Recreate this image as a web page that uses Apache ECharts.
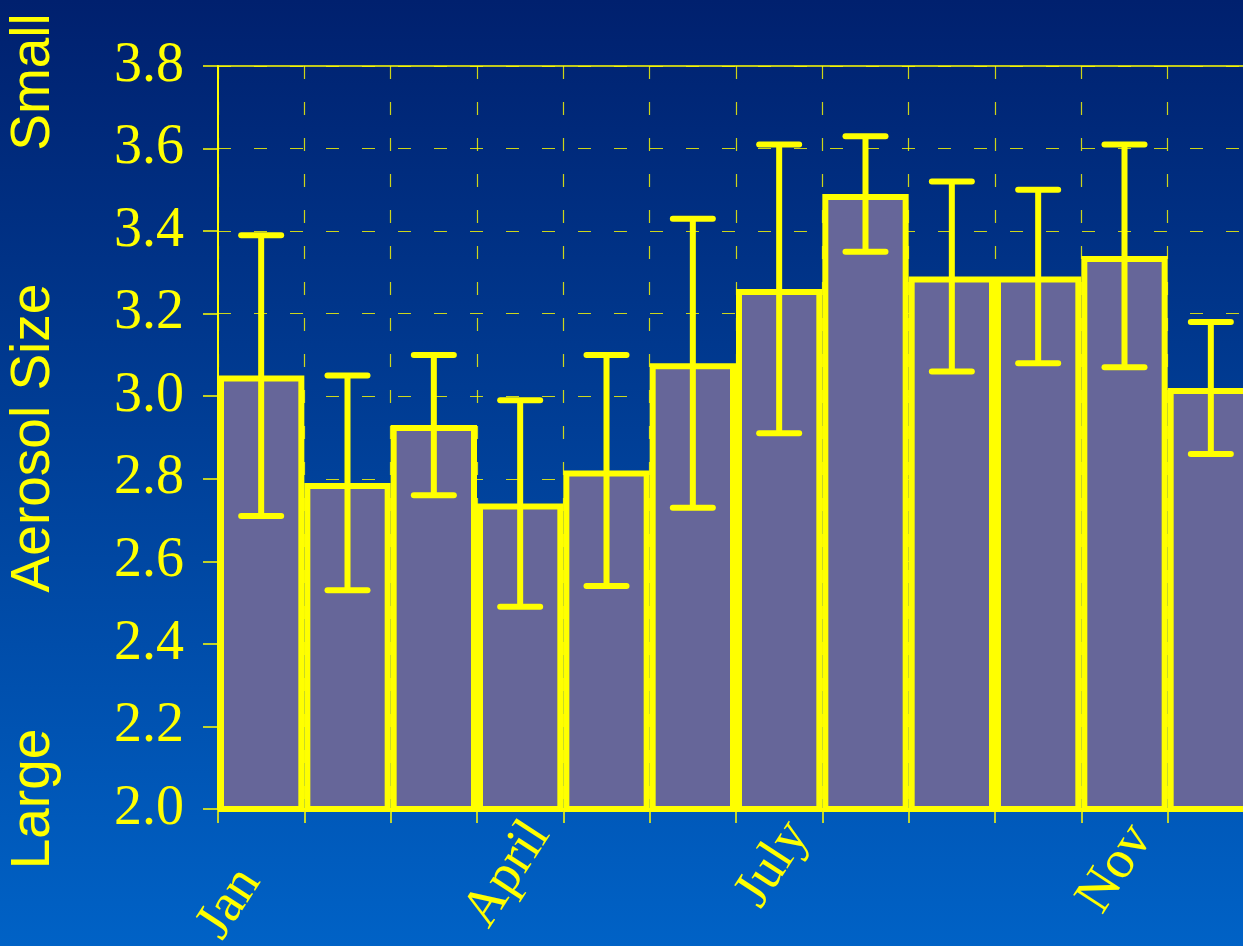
<!DOCTYPE html>
<html>
<head>
<meta charset="utf-8">
<script src="https://cdn.jsdelivr.net/npm/echarts@6/dist/echarts.min.js"></script>
<style>
  html, body { margin: 0; padding: 0; overflow: hidden; }
  #chart { width: 1243px; height: 946px; }
</style>
</head>
<body>
<div id="chart"></div>
<script>
const months = ["Jan", "Feb", "Mar", "April", "May", "Jun", "July", "Aug", "Sep", "Oct", "Nov", "Dec"];
const shownMonths = ["Jan", "April", "July", "Nov"];
const sizeMean = [3.05, 2.79, 2.93, 2.74, 2.82, 3.08, 3.26, 3.49, 3.29, 3.29, 3.34, 3.02];
const sizeHigh = [3.39, 3.05, 3.10, 2.99, 3.10, 3.43, 3.61, 3.63, 3.52, 3.50, 3.61, 3.18];
const sizeLow = [2.71, 2.53, 2.76, 2.49, 2.54, 2.73, 2.91, 3.35, 3.06, 3.08, 3.07, 2.86];
const sideLabels = ["Small", "Aerosol Size", "Large"];

const yellow = "#ffff00";
const chart = echarts.init(document.getElementById("chart"));

const errData = months.map((m, i) => [i, sizeLow[i], sizeHigh[i]]);

// small nudges so the slanted month names sit like in the slide
const labelPad = {
  Jan: [30, 22, 0, 0],
  April: [8, -34, 0, 0],
  July: [0, -34, 6, 0],
  Nov: [8, -30, 0, 0]
};
const monthData = months.map((m) => ({
  value: m,
  textStyle: labelPad[m] ? { padding: labelPad[m] } : {}
}));

// side captions, rotated like the original slide
const sideY = [82, 438, 799];
const sideText = sideLabels.map((t, i) => ({
  type: "text", x: 34, y: sideY[i], rotation: Math.PI / 2,
  style: { text: t, fill: yellow, font: "55px 'Liberation Sans'", textAlign: "center", textVerticalAlign: "middle" }
}));

const option = {
  backgroundColor: {
    type: "linear", x: 0, y: 0, x2: 0, y2: 1,
    colorStops: [
      { offset: 0, color: "#00206e" },
      { offset: 1, color: "#0062c6" }
    ]
  },
  animation: false,
  grid: {
    left: 218, top: 66, right: -11, height: 743,
    outerBoundsMode: "none",
    show: true, borderColor: yellow, borderWidth: 1.5, backgroundColor: "transparent"
  },
  graphic: sideText,
  xAxis: {
    type: "category",
    data: monthData,
    axisLine: { lineStyle: { color: yellow, width: 2 } },
    axisTick: { show: true, length: 14, lineStyle: { color: yellow, width: 1.5 } },
    splitLine: { show: true, interval: 0, lineStyle: { color: yellow, width: 1.2, type: [13, 23], opacity: 0.8 } },
    axisLabel: {
      interval: 0,
      rotate: 57,
      margin: 46,
      color: yellow,
      fontFamily: "Liberation Serif",
      fontSize: 54,
      formatter: (v) => (shownMonths.includes(v) ? v : "")
    }
  },
  yAxis: {
    type: "value",
    min: 2.0, max: 3.8, interval: 0.2,
    axisLine: { show: true, lineStyle: { color: yellow, width: 2 } },
    axisTick: { show: true, length: 15, lineStyle: { color: yellow, width: 1.5 } },
    splitLine: { show: true, lineStyle: { color: yellow, width: 1.2, type: [13, 23], opacity: 0.8 } },
    axisLabel: {
      margin: 34,
      color: yellow,
      fontFamily: "Liberation Serif",
      fontSize: 56,
      formatter: (v) => v.toFixed(1)
    }
  },
  series: [
    {
      type: "bar",
      data: sizeMean,
      barCategoryGap: "0%",
      itemStyle: { color: "#666699", borderColor: yellow, borderWidth: 6 },
      z: 2
    },
    {
      type: "custom",
      data: errData,
      z: 3,
      renderItem(params, api) {
        const x = api.value(0);
        const lo = api.coord([x, api.value(1)]);
        const hi = api.coord([x, api.value(2)]);
        const half = 20;
        const style = { stroke: yellow, lineWidth: 6, lineCap: "round" };
        return {
          type: "group",
          children: [
            { type: "line", shape: { x1: lo[0], y1: lo[1], x2: hi[0], y2: hi[1] }, style: { stroke: yellow, lineWidth: 6 } },
            { type: "line", shape: { x1: hi[0] - half, y1: hi[1], x2: hi[0] + half, y2: hi[1] }, style },
            { type: "line", shape: { x1: lo[0] - half, y1: lo[1], x2: lo[0] + half, y2: lo[1] }, style }
          ]
        };
      }
    }
  ]
};

chart.setOption(option);
</script>
</body>
</html>
